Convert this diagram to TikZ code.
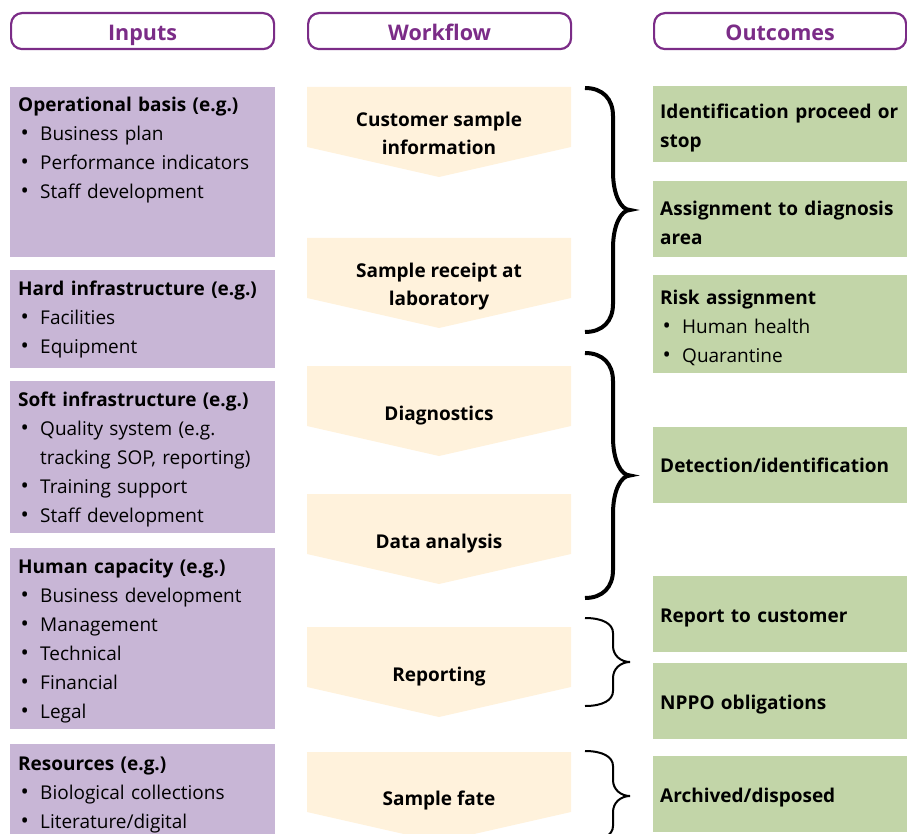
\documentclass[tikz,border=0pt]{standalone}
\usepackage{fontspec}
\setmainfont{Open Sans}
\usetikzlibrary{positioning}
\definecolor{frame}{HTML}{7B2C87}
\definecolor{inputs}{HTML}{C8B6D6}
\definecolor{workflow}{HTML}{FFF2DC}
\definecolor{outcomes}{HTML}{C2D5A8}
\newcommand{\bul}{\hspace*{2.5pt}\makebox[19.5pt][l]{\fontsize{22}{22}\selectfont\textbullet}}
\newcommand{\cont}{\hspace*{22pt}}
\newcommand{\lift}{\rule{0pt}{22pt}}
% right curly brace: style, top, bottom, end span, middle span
\newcommand{\curlybrace}[5]{%
  \draw[#1] (585,#2) .. controls (603,#2) and (613,{#2+0.4*#4}) .. (613,{#2+#4})
    -- (613,{(#2+#3)/2-#5}) .. controls (613,{(#2+#3)/2-0.4*#5}) and (621,{(#2+#3)/2}) .. (630,{(#2+#3)/2})
    .. controls (621,{(#2+#3)/2}) and (613,{(#2+#3)/2+0.4*#5}) .. (613,{(#2+#3)/2+#5})
    -- (613,{#3-#4}) .. controls (613,{#3-0.4*#4}) and (603,#3) .. (585,#3);}

\begin{document}
\begin{tikzpicture}[x=1pt,y=-1pt,font=\fontsize{19}{29}\selectfont]
    \tikzstyle{head}=[draw=frame, line width=2.2pt, rounded corners=11pt, minimum width=263pt, minimum height=36pt, anchor=north west, inner sep=0pt, text height=18pt, text depth=0pt, text=frame, font=\fontsize{21.5}{24}\selectfont\bfseries]
    \tikzstyle{inbox}=[fill=inputs, minimum width=265pt, anchor=north west, inner sep=0pt]
    \tikzstyle{intext}=[anchor=base west, text width=255pt, align=left, inner sep=0pt]
    \tikzstyle{wfshape}=[fill=workflow]
    \tikzstyle{wftext}=[align=center, font=\fontsize{19}{28}\selectfont\bfseries]
    \tikzstyle{outbox}=[fill=outcomes, minimum width=254pt, minimum height=76pt, anchor=north west, text width=240pt, align=left, inner xsep=7pt, inner ysep=0pt, font=\fontsize{19}{29}\selectfont\bfseries]
    \tikzstyle{bigbrace}=[line width=4pt]
    \tikzstyle{smallbrace}=[line width=2pt]

    \useasboundingbox (0,0) rectangle (907,834);

    % Headers
    \node[head] (inputs) at (10,12) {Inputs};
    \node[head] (workflow) at (307,12) {Workflow};
    \node[head, minimum width=252pt] (outcomes) at (653,12) {Outcomes};

    % Inputs
    \node[inbox, minimum height=170pt] (opbox) at (10,87) {};
    \node[intext] (optext) at (18,112) {\textbf{Operational basis (e.g.)}\\ \bul Business plan\\ \bul Performance indicators\\ \bul Staff development};
    \node[inbox, minimum height=98pt] (hardbox) at (10,270) {};
    \node[intext] (hardtext) at (18,295) {\textbf{Hard infrastructure (e.g.)}\\ \bul Facilities\\ \bul Equipment};
    \node[inbox, minimum height=152pt] (softbox) at (10,381) {};
    \node[intext] (softtext) at (18,406) {\textbf{Soft infrastructure (e.g.)}\\ \bul Quality system (e.g.\\ \cont tracking SOP, reporting)\\ \bul Training support\\ \bul Staff development};
    \node[inbox, minimum height=181pt] (humanbox) at (10,548) {};
    \node[intext] (humantext) at (18,573) {\textbf{Human capacity (e.g.)}\\ \bul Business development\\ \bul Management\\ \bul Technical\\ \bul Financial\\ \bul Legal};
    \node[inbox, minimum height=120pt] (resbox) at (10,744) {};
    \node[intext] (restext) at (18,770) {\textbf{Resources (e.g.)}\\ \bul Biological collections\\ \bul Literature/digital};

    % Workflow
    \foreach \y/\dy/\name/\txt in {87/46/custinfo/{Customer sample\\information}, 238/49/receipt/{Sample receipt at\\laboratory}, 366/50/diagnostics/Diagnostics, 494/50/analysis/Data analysis, 627/50/reporting/Reporting, 752/49/fate/Sample fate} {
        \fill[wfshape] (307,\y) -- (571,\y) -- (571,\y+60) -- (439,\y+90) -- (307,\y+60) -- cycle;
        \node[wftext] (\name) at (439,\y+\dy) {\txt};
    }

    % Braces
    \curlybrace{bigbrace}{88}{332}{28}{38}
    \curlybrace{bigbrace}{353}{598}{28}{38}
    \curlybrace{smallbrace}{618}{706}{15}{16}
    \curlybrace{smallbrace}{751}{841}{15}{16}

    % Outcomes
    \node[outbox] (proceed) at (653,86) {\lift Identification proceed or\\stop};
    \node[outbox] (assign) at (653,181) {\lift Assignment to diagnosis\\area};
    \node[outbox, minimum height=98pt] (risk) at (653,275) {\lift Risk assignment\\ \mdseries\bul Human health\\ \bul Quarantine};
    \node[outbox] (detect) at (653,427) {Detection/identification};
    \node[outbox] (report) at (653,576) {\lift Report to customer};
    \node[outbox] (nppo) at (653,663) {\lift NPPO obligations};
    \node[outbox] (archive) at (653,756) {\lift Archived/disposed};
\end{tikzpicture}
\end{document}
